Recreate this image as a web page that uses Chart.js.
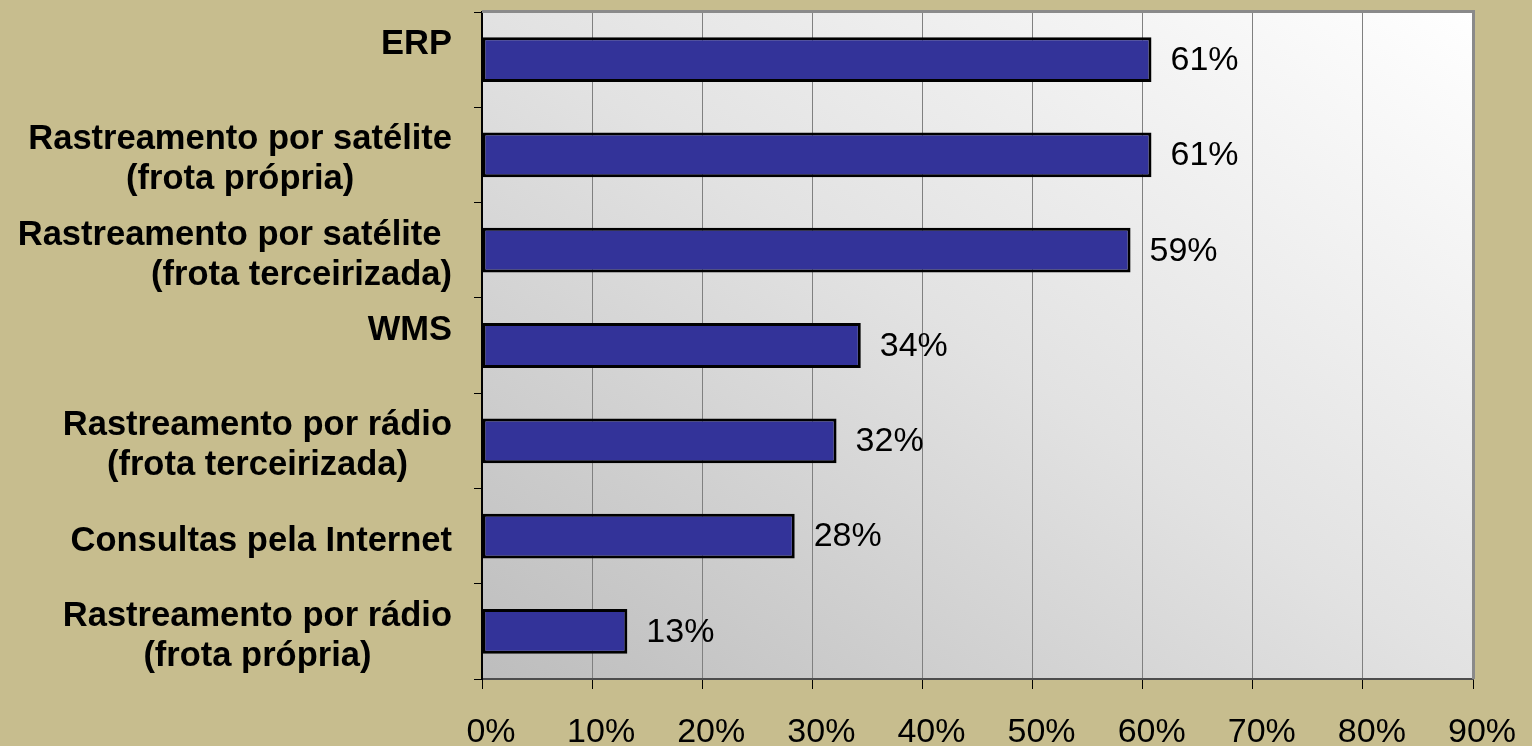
<!DOCTYPE html>
<html>
<head>
<meta charset="utf-8">
<script src="https://cdn.jsdelivr.net/npm/chart.js@4.4.1/dist/chart.umd.min.js"></script>
<style>
html,body{margin:0;padding:0;background:#c7bd8e;}
canvas{display:block;}
</style>
</head>
<body>
<canvas id="c" width="1532" height="746"></canvas>
<script>
// ---- data ----
const categories = [
  ['ERP', ''],
  ['Rastreamento por satélite', '(frota própria)'],
  ['Rastreamento por satélite ', '              (frota terceirizada)'],
  ['WMS', ''],
  ['Rastreamento por rádio', '(frota terceirizada)'],
  ['Consultas pela Internet'],
  ['Rastreamento por rádio', '(frota própria)']
];
const values = [60.8, 60.8, 58.9, 34.4, 32.2, 28.4, 13.2];
const xTicks = [0, 10, 20, 30, 40, 50, 60, 70, 80, 90];
const xTickLabels = ['0%', '10%', '20%', '30%', '40%', '50%', '60%', '70%', '80%', '90%'];

const FONT = "Arial, 'Liberation Sans', sans-serif";

const bgPlugin = {
  id: 'bg',
  beforeDraw(chart) {
    const ctx = chart.ctx, a = chart.chartArea;
    ctx.save();
    ctx.fillStyle = '#c7bd8e';
    ctx.fillRect(0, 0, chart.width, chart.height);
    const w = a.right - a.left, h = a.bottom - a.top;
    const len = Math.sqrt(w * w + h * h);
    const ux = h / len, uy = -w / len;
    const d = 2 * w * h / len;
    const g = ctx.createLinearGradient(a.left, a.bottom, a.left + ux * d, a.bottom + uy * d);
    g.addColorStop(0, '#bdbdbd');
    g.addColorStop(0.5, '#e2e2e2');
    g.addColorStop(1, '#ffffff');
    ctx.fillStyle = g;
    ctx.fillRect(a.left, a.top, w, h);
    ctx.restore();
  }
};

const frameLabelPlugin = {
  id: 'frameLabels',
  afterDatasetsDraw(chart) {
    const ctx = chart.ctx, a = chart.chartArea;
    ctx.save();
    // top and right plot border
    ctx.strokeStyle = '#8a8a8a';
    ctx.lineWidth = 3;
    ctx.beginPath();
    ctx.moveTo(a.left, a.top - 0.5);
    ctx.lineTo(a.right + 0.5, a.top - 0.5);
    ctx.lineTo(a.right + 0.5, a.bottom);
    ctx.stroke();
    // value labels
    const meta = chart.getDatasetMeta(0);
    ctx.fillStyle = '#000';
    ctx.font = '34px ' + FONT;
    ctx.textAlign = 'left';
    ctx.textBaseline = 'middle';
    meta.data.forEach((bar, i) => {
      ctx.fillText(Math.round(values[i]) + '%', bar.x + 19, bar.y + 1);
    });
    // category labels: block right-aligned, lines centred to each other
    const ys = chart.scales.y;
    ctx.font = 'bold 34.5px ' + FONT;
    ctx.textAlign = 'center';
    const lh = 40;
    const right = a.left - 30;
    categories.forEach((lines, i) => {
      const yc = ys.getPixelForValue(i) + 5;
      const maxW = Math.max(...lines.map(l => ctx.measureText(l).width));
      const cx = right - maxW / 2;
      const y0 = yc - (lines.length - 1) * lh / 2;
      lines.forEach((l, k) => ctx.fillText(l, cx, y0 + k * lh));
    });
    ctx.restore();
  }
};

new Chart(document.getElementById('c'), {
  type: 'bar',
  data: {
    labels: categories,
    datasets: [{
      data: values,
      backgroundColor: '#333399',
      borderColor: '#000000',
      borderWidth: 3,
      borderSkipped: false,
      barPercentage: 0.47,
      categoryPercentage: 1.0
    }]
  },
  options: {
    indexAxis: 'y',
    responsive: false,
    animation: false,
    devicePixelRatio: 1,
    layout: { padding: { top: 12, right: 59, left: 0, bottom: 0 } },
    plugins: { legend: { display: false }, tooltip: { enabled: false } },
    scales: {
      x: {
        type: 'linear',
        min: xTicks[0],
        max: xTicks[xTicks.length - 1],
        afterBuildTicks: s => { s.ticks = xTicks.map(v => ({ value: v })); },
        ticks: {
          callback: (v) => xTickLabels[xTicks.indexOf(v)],
          color: '#000',
          font: { family: FONT, size: 34 },
          padding: 23,
          labelOffset: 9,
          maxRotation: 0,
          autoSkip: false
        },
        grid: { color: '#808080', lineWidth: 1, tickColor: '#000', tickLength: 10 },
        border: { color: '#4d4d4d', width: 2 },
        afterFit: s => { s.height = 67; }
      },
      y: {
        type: 'category',
        ticks: { display: false },
        grid: { drawOnChartArea: false, tickColor: '#000', tickLength: 8, offset: true },
        border: { color: '#000', width: 2 },
        afterFit: s => { s.width = 482; }
      }
    }
  },
  plugins: [bgPlugin, frameLabelPlugin]
});
</script>
</body>
</html>
